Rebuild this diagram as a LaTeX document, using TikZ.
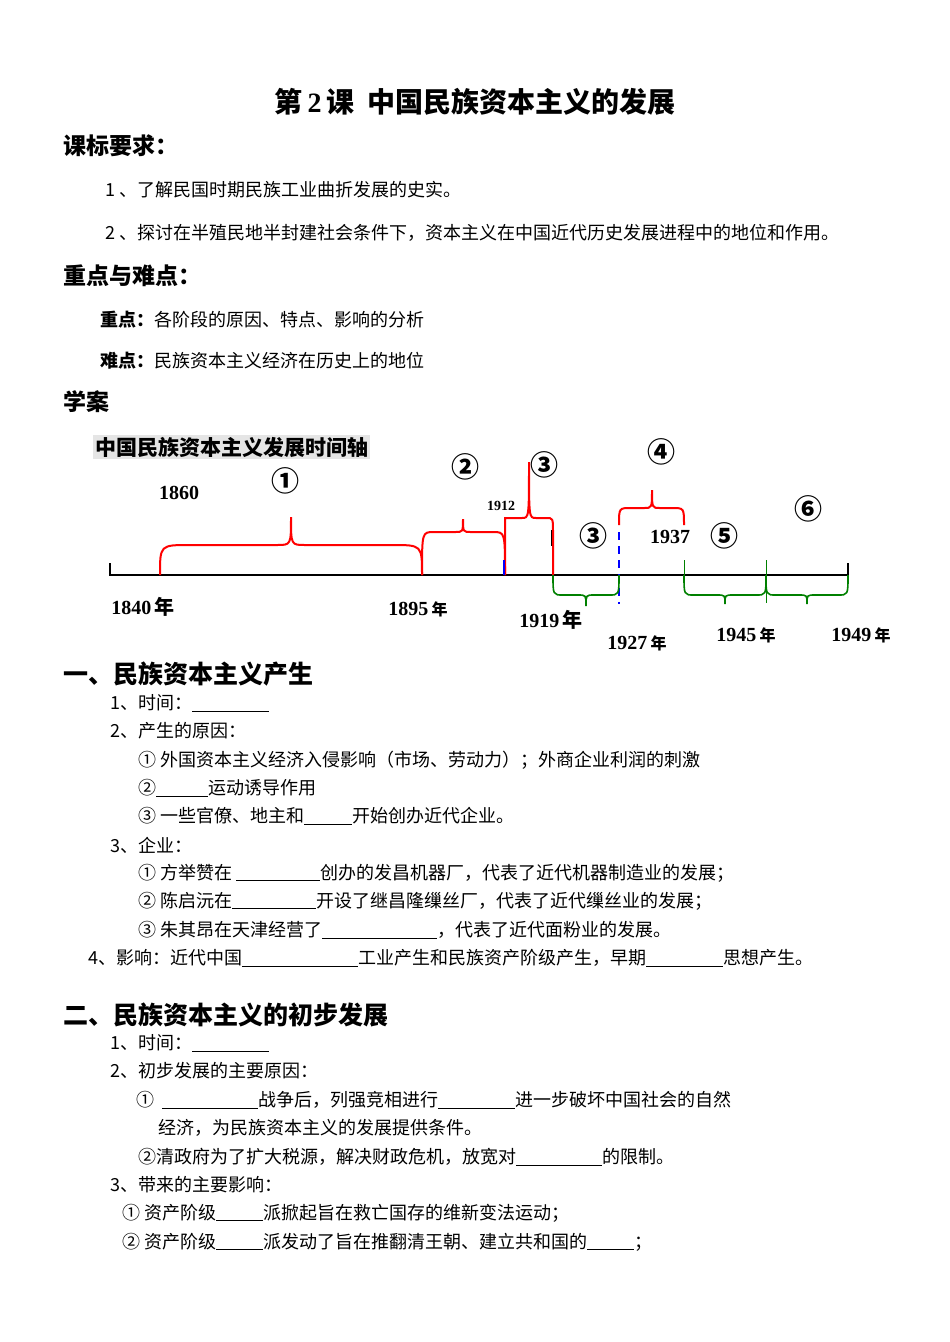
\documentclass[tikz,border=0pt]{standalone}
\usepackage{fontspec}
\setmainfont{Noto Sans CJK SC}
\newfontfamily\tm{Liberation Serif}
\usetikzlibrary{calc}
\newcommand\blk[1]{\rule[-2pt]{#1pt}{0.8pt}}
\newcommand\nian[1]{{\rmfamily\bfseries\fontsize{#1}{#1}\selectfont 年}}
\newcommand\mybrc[9]{% x1 c x2 yb yh yp r rpeak style
\draw[#9] (#1,#4) .. controls (#1,#5) .. ($(#1,#5)+(#7,0)$) -- ($(#2,#5)-(#8,0)$) .. controls (#2,#5) .. (#2,#6) .. controls (#2,#5) .. ($(#2,#5)+(#8,0)$) -- ($(#3,#5)-(#7,0)$) .. controls (#3,#5) .. (#3,#4);}
\begin{document}
\begin{tikzpicture}[x=1pt,y=-1pt,
 tx/.style={anchor=west,inner sep=0pt,font=\fontsize{18}{18}\selectfont},
 hd/.style={anchor=west,inner sep=0pt,font=\fontsize{23}{23}\selectfont\bfseries},
 yr/.style={inner sep=0pt,font=\fontsize{20}{20}\selectfont\tm\bfseries},
 cn/.style={inner sep=0pt,font=\fontsize{28}{28}\selectfont\bfseries},
 rb/.style={red,line width=2pt},
 gb/.style={green!50!black,line width=1.6pt}]
\useasboundingbox (0,0) rectangle (950,1342);
\node[inner sep=0pt,font=\fontsize{28}{28}\selectfont\bfseries] (title) at (475,102) {第\,{\tm 2}\,课\ \ 中国民族资本主义的发展};
\node[hd] (h1) at (63,146) {课标要求：};
\node[tx] (a1) at (105,190) {1 、了解民国时期民族工业曲折发展的史实。};
\node[tx] (a2) at (105,233) {2 、探讨在半殖民地半封建社会条件下，资本主义在中国近代历史发展进程中的地位和作用。};
\node[hd] (h2) at (63,276) {重点与难点：};
\node[tx] (b1) at (100,320) {\textbf{重点：}各阶段的原因、特点、影响的分析};
\node[tx] (b2) at (100,361) {\textbf{难点：}民族资本主义经济在历史上的地位};
\node[hd] (h3) at (63,402) {学案};
\node[anchor=west,fill=gray!20,inner sep=2pt,font=\fontsize{21}{21}\selectfont\bfseries] (tt) at (93,447) {中国民族资本主义发展时间轴};
% axis
\draw[line width=2pt] (110,563) -- (110,575) -- (848,575) -- (848,563);
\mybrc{160}{291}{422}{575}{545}{517}{30}{14}{rb}
\mybrc{422}{463}{505}{575}{532}{519}{12}{8}{rb}
\draw[rb] (505,575) -- (505,518) -- (522,518) .. controls (529,518) .. (529,462) .. controls (529,518) .. (536,518) -- (546,518) .. controls (553,518) .. (553,532) -- (553,575);
\draw[blue,line width=2.2pt] (504,560) -- (504,575);
\draw[black,line width=1pt] (551,530) -- (551,546);
\mybrc{619}{652}{684}{525}{508}{490}{12}{8}{rb}
\draw[blue,line width=1.5pt,dash pattern=on 8pt off 6pt] (619,532) -- (619,604);
\mybrc{553}{586}{619}{575}{595}{606}{10}{8}{gb}
\mybrc{684}{725}{766}{575}{595}{604}{10}{8}{gb}
\mybrc{766}{807}{848}{575}{595}{604}{10}{8}{gb}
\draw[green!50!black,line width=1pt] (684,560) -- (684,575) (766,560) -- (766,603);
\node[yr] (y1) at (143,607) {1840\,\nian{20}};
\node[yr] (y2) at (418,609) {1895\,\nian{16}};
\node[yr] (y3) at (551,620) {1919\,\nian{20}};
\node[yr] (y4) at (637,643) {1927\,\nian{16}};
\node[yr] (y5) at (746,635) {1945\,\nian{16}};
\node[yr] (y6) at (861,635) {1949\,\nian{16}};
\node[yr] (y7) at (179,493) {1860};
\node[inner sep=0pt,font=\fontsize{14}{14}\selectfont\tm\bfseries] (y8) at (501,506) {1912};
\node[yr] (y9) at (670,537) {1937};
\node[cn] (c1) at (285,481) {①};
\node[cn] (c2) at (465,467) {②};
\node[cn] (c3) at (544,465) {③};
\node[cn] (c4) at (661,452) {④};
\node[cn] (c3b) at (593,536) {③};
\node[cn] (c5) at (724,536) {⑤};
\node[cn] (c6) at (808,509) {⑥};
% section 1
\node[hd,font=\fontsize{25}{25}\selectfont\bfseries] (s1) at (63,674) {一、民族资本主义产生};
\node[tx] (l1) at (110,703) {1、时间：\blk{77}};
\node[tx] (l2) at (110,731) {2、产生的原因：};
\node[tx] (l3) at (138,760) {① 外国资本主义经济入侵影响（市场、劳动力）；外商企业利润的刺激};
\node[tx] (l4) at (138,788) {②\blk{52}运动诱导作用};
\node[tx] (l5) at (138,816) {③ 一些官僚、地主和\blk{48}开始创办近代企业。};
\node[tx] (l6) at (110,845) {3、企业：};
\node[tx] (l7) at (138,873) {① 方举赞在 \blk{84}创办的发昌机器厂，代表了近代机器制造业的发展；};
\node[tx] (l8) at (138,901) {② 陈启沅在\blk{84}开设了继昌隆缫丝厂，代表了近代缫丝业的发展；};
\node[tx] (l9) at (138,930) {③ 朱其昂在天津经营了\blk{115}，代表了近代面粉业的发展。};
\node[tx] (l10) at (88,958) {4、影响：近代中国\blk{116}工业产生和民族资产阶级产生，早期\blk{77}思想产生。};
% section 2
\node[hd,font=\fontsize{25}{25}\selectfont\bfseries] (s2) at (63,1015) {二、民族资本主义的初步发展};
\node[tx] (m1) at (110,1043) {1、时间：\blk{77}};
\node[tx] (m2) at (110,1071) {2、初步发展的主要原因：};
\node[tx] (m3) at (136,1100) {①\ \ \blk{96}战争后，列强竞相进行\blk{77}进一步破坏中国社会的自然};
\node[tx] (m4) at (158,1128) {经济，为民族资本主义的发展提供条件。};
\node[tx] (m5) at (138,1157) {②清政府为了扩大税源，解决财政危机，放宽对\blk{86}的限制。};
\node[tx] (m6) at (110,1185) {3、带来的主要影响：};
\node[tx] (m7) at (122,1213) {① 资产阶级\blk{47}派掀起旨在救亡国存的维新变法运动；};
\node[tx] (m8) at (122,1242) {② 资产阶级\blk{47}派发动了旨在推翻清王朝、建立共和国的\blk{47}；};
\end{tikzpicture}
\end{document}
